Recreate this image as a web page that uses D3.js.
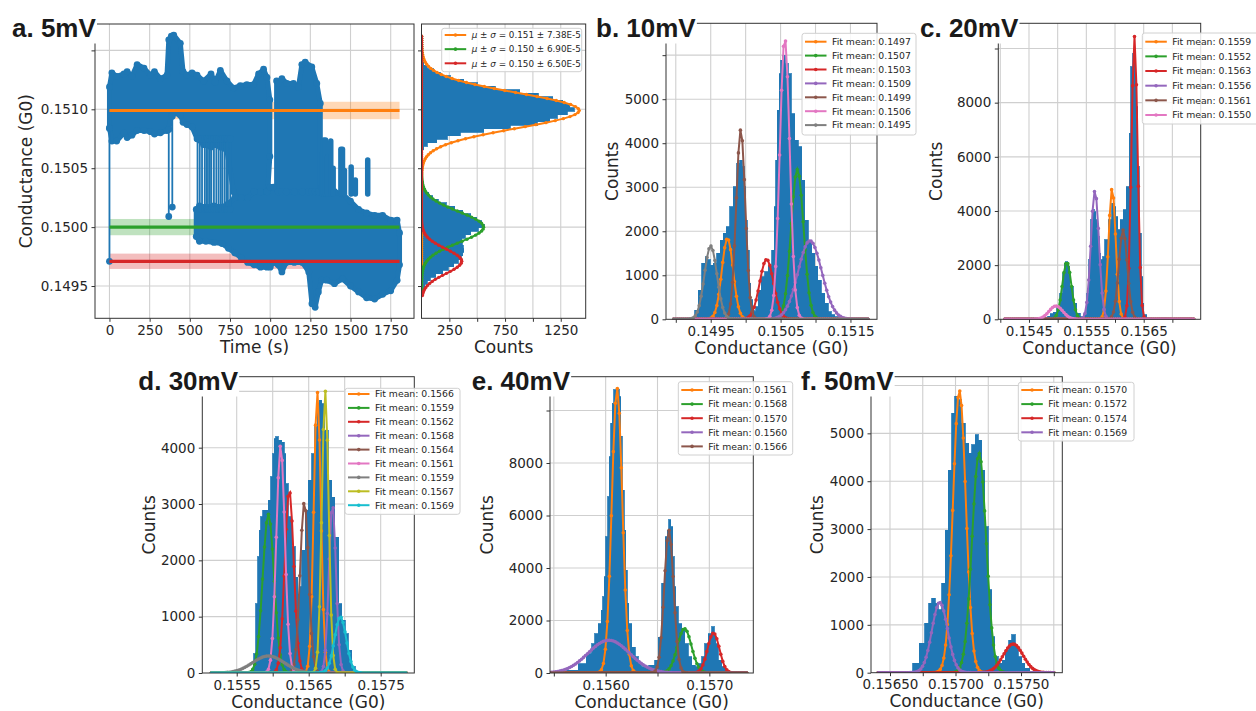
<!DOCTYPE html>
<html>
<head>
<meta charset="utf-8">
<script src="https://cdn.jsdelivr.net/npm/d3@7"></script>
<style>
  body { margin: 0; background: #fff; }
  svg text { font-family: "DejaVu Sans", sans-serif; fill: #262626; }
  .title { font-family: "Liberation Sans", Arial, sans-serif; font-weight: bold; font-size: 26px; fill: #1a1a1a; }
</style>
</head>
<body>
<svg id="fig" width="1256" height="711"></svg>
<script>

// Colours (matplotlib tab10, blue left out for the fits)
const blue = "#1f77b4";
const fitColors = ["#ff7f0e", "#2ca02c", "#d62728", "#9467bd", "#8c564b", "#e377c2", "#7f7f7f", "#bcbd22", "#17becf"];

// a. 5mV - time trace //////////////////////////////

// upper state envelope (time s, top, bottom)
const upT  = [0, 15, 45, 90, 110, 140, 172, 215, 255, 280, 317, 358, 369, 385, 400, 441, 458, 482, 514, 545, 586, 632, 658, 690, 731, 772, 814, 855, 897, 928, 959, 980, 998];
const upHi = [0.15119, 0.15131, 0.15128, 0.15130, 0.15132, 0.15128, 0.15138, 0.15135, 0.15129, 0.15132, 0.15126, 0.15129, 0.15159, 0.15162, 0.15163, 0.15156, 0.15132, 0.15129, 0.15131, 0.15129, 0.15124, 0.15130, 0.15123, 0.15133, 0.15124, 0.15118, 0.15120, 0.15121, 0.15121, 0.15130, 0.15134, 0.15127, 0.15108];
const upLo = [0.15084, 0.15073, 0.15073, 0.15080, 0.15076, 0.15078, 0.15082, 0.15082, 0.15081, 0.15079, 0.15080, 0.15082, 0.15083, 0.15094, 0.15097, 0.15095, 0.15089, 0.15087, 0.15085, 0.15075, 0.15070, 0.15068, 0.15070, 0.15068, 0.15065, 0.15030, 0.15020, 0.15020, 0.15020, 0.15020, 0.15020, 0.15020, 0.15060];

const up2T  = [1040, 1052, 1073, 1104, 1145, 1176, 1197, 1218, 1259, 1290, 1312];
const up2Hi = [0.15124, 0.15122, 0.15126, 0.15122, 0.15122, 0.15119, 0.15138, 0.15140, 0.15136, 0.15122, 0.15105];
const up2Lo = [0.15020, 0.15020, 0.15020, 0.15020, 0.15020, 0.15020, 0.15020, 0.15020, 0.15020, 0.15020, 0.15020];

// lower state envelope
const lowT  = [540, 560, 600, 650, 700, 740, 780, 820, 860, 900, 940, 980, 1000, 1020, 1050, 1073, 1100, 1150, 1200, 1240, 1260, 1280, 1300, 1320, 1350, 1400, 1450, 1500, 1550, 1600, 1650, 1700, 1750, 1790, 1805];
const lowHi = [0.15015, 0.15018, 0.15017, 0.15018, 0.15017, 0.15020, 0.15025, 0.15025, 0.15025, 0.15030, 0.15030, 0.15030, 0.15034, 0.15034, 0.15030, 0.15030, 0.15030, 0.15030, 0.15030, 0.15030, 0.15030, 0.15030, 0.15030, 0.15034, 0.15032, 0.15030, 0.15028, 0.15022, 0.15015, 0.15012, 0.15010, 0.15010, 0.15006, 0.15006, 0.14995];
const lowLo = [0.14992, 0.14988, 0.14988, 0.14987, 0.14986, 0.14982, 0.14978, 0.14974, 0.14970, 0.14968, 0.14966, 0.14966, 0.14966, 0.14970, 0.14968, 0.14962, 0.14970, 0.14970, 0.14970, 0.14962, 0.14935, 0.14932, 0.14945, 0.14955, 0.14955, 0.14952, 0.14956, 0.14950, 0.14945, 0.14940, 0.14939, 0.14943, 0.14946, 0.14955, 0.14968];

// single jumps between states
const spikeT   = [0, 369, 391, 548, 562, 576, 593, 604, 613, 625, 634, 650, 665, 679, 692, 702, 716, 728, 737, 752, 1322, 1333, 1345, 1358, 1377, 1392, 1440, 1450, 1462, 1504, 1530, 1607];
const spikeTop = [0.15084, 0.15083, 0.15094, 0.15075, 0.15075, 0.15075, 0.15075, 0.15075, 0.15075, 0.15075, 0.15075, 0.15075, 0.15075, 0.15075, 0.15075, 0.15075, 0.15075, 0.15075, 0.15075, 0.15075, 0.15062, 0.15074, 0.15074, 0.15060, 0.15073, 0.15050, 0.15066, 0.15066, 0.15048, 0.15051, 0.15040, 0.15057];
const spikeBot = [0.14971, 0.15009, 0.15017, 0.15015, 0.15015, 0.15015, 0.15015, 0.15015, 0.15015, 0.15015, 0.15015, 0.15015, 0.15015, 0.15015, 0.15015, 0.15015, 0.15015, 0.15015, 0.15015, 0.15015, 0.15028, 0.15028, 0.15028, 0.15028, 0.15028, 0.15028, 0.15028, 0.15028, 0.15028, 0.15028, 0.15028, 0.15028];

const aMeans = [0.15099, 0.15000, 0.14971];
const aSigmas = [7.38e-5, 6.90e-5, 6.50e-5];
const aTimeSpan = [0, 1805];
const aLegend = ["0.151 ± 7.38E-5", "0.150 ± 6.90E-5", "0.150 ± 6.50E-5"];

// a. histogram of the trace
const aBinStart = 0.14944, aBinStep = 0.00003;
const aCounts = [10, 18, 30, 50, 80, 130, 190, 240, 290, 330, 355, 372, 380, 376, 368, 362, 392, 440, 510, 565,
                 540, 495, 440, 370, 300, 220, 150, 100, 65, 40, 22, 14, 10, 9, 9, 9, 9, 10, 10, 11,
                 13, 20, 50, 135, 230, 346, 560, 798, 1040, 1150, 1220, 1310, 1370, 1330, 1270, 1180, 1050, 880, 660, 500,
                 380, 260, 170, 110, 50, 20];
const aFitAmp = [1416, 557, 361];
const aFitWidth = [1.5e-4, 1.3e-4, 1.05e-4];

// b. 10mV
const bG = [0.14920, 0.14925, 0.14930, 0.14935, 0.14940, 0.14944, 0.14947, 0.14951, 0.14956, 0.14961, 0.14966, 0.14970, 0.14975, 0.14980, 0.14985, 0.14990, 0.14993, 0.14997, 0.14999, 0.15001, 0.15004, 0.15006, 0.15009, 0.15011, 0.15013, 0.15016, 0.15020, 0.15025, 0.15030, 0.15035, 0.15040, 0.15042, 0.15044, 0.15047, 0.15049, 0.15051, 0.15054, 0.15059, 0.15063, 0.15068, 0.15073, 0.15078, 0.15082, 0.15087, 0.15092, 0.15097, 0.15101, 0.15106, 0.15111, 0.15116, 0.15120, 0.15125, 0.15130, 0.15140, 0.15149];
const bN = [10, 50, 210, 665, 1270, 1420, 1350, 1230, 1270, 1500, 1800, 1950, 2100, 2560, 3010, 3540, 3615, 3460, 3010, 2250, 1570, 820, 440, 210, 175, 290, 665, 970, 1080, 1200, 1570, 2560, 3615, 4750, 5580, 5880, 6000, 5810, 5580, 4670, 4070, 3920, 3160, 2250, 1800, 1500, 1200, 890, 590, 360, 175, 100, 60, 20, 0];
const bMeans  = [0.14974, 0.15074, 0.15030, 0.15092, 0.14993, 0.15056, 0.14950];
const bAmps   = [1838, 3404, 1361, 1785, 4311, 6391, 1664];
const bSigmas = [8.1e-5, 9.0e-5, 1.0e-4, 1.7e-4, 6.5e-5, 7.1e-5, 9.0e-5];
const bLabels = ["0.1497", "0.1507", "0.1503", "0.1509", "0.1499", "0.1506", "0.1495"];

// c. 20mV
const cG = [0.15480, 0.15485, 0.15490, 0.15495, 0.15501, 0.15507, 0.15510, 0.15513, 0.15516, 0.15519, 0.15524, 0.15530, 0.15536, 0.15542, 0.15548, 0.15553, 0.15556, 0.15559, 0.15562, 0.15565, 0.15568, 0.15571, 0.15574, 0.15577, 0.15580, 0.15585, 0.15591, 0.15597, 0.15600, 0.15603, 0.15607, 0.15612, 0.15617, 0.15623, 0.15626, 0.15629, 0.15632, 0.15635, 0.15638, 0.15641, 0.15644, 0.15647, 0.15649, 0.15652, 0.15658];
const cN = [60, 120, 200, 260, 470, 960, 1700, 2070, 2130, 1950, 1200, 590, 220, 100, 160, 960, 2190, 3670, 4040, 3980, 3670, 3050, 2440, 2190, 2310, 2930, 3670, 4280, 4160, 3790, 3300, 3670, 4040, 4900, 6870, 9330, 9800, 9580, 7850, 5640, 3180, 1580, 590, 160, 37];
const cMeans  = [0.15595, 0.15516, 0.15634, 0.15565, 0.15614, 0.15497];
const cAmps   = [4838, 2105, 10440, 4752, 3300, 492];
const cSigmas = [6.2e-5, 7.9e-5, 5.4e-5, 7.0e-5, 7.4e-5, 1.2e-4];
const cLabels = ["0.1559", "0.1552", "0.1563", "0.1556", "0.1561", "0.1550"];

// d. 30mV
const dG = [0.15573, 0.15575, 0.15578, 0.15580, 0.15582, 0.15585, 0.15587, 0.15592, 0.15596, 0.15599, 0.15601, 0.15603, 0.15606, 0.15610, 0.15615, 0.15617, 0.15619, 0.15624, 0.15629, 0.15633, 0.15636, 0.15638, 0.15643, 0.15647, 0.15652, 0.15656, 0.15661, 0.15663, 0.15666, 0.15670, 0.15675, 0.15680, 0.15684, 0.15689, 0.15694, 0.15698, 0.15703, 0.15707, 0.15712, 0.15717];
const dN = [18, 343, 1230, 2060, 2530, 2770, 2890, 2890, 3065, 3480, 3890, 4160, 4190, 4130, 4100, 3890, 3360, 2770, 2240, 1700, 1350, 1530, 2180, 2890, 3420, 3890, 4370, 4720, 4840, 4780, 4310, 3420, 3120, 2410, 1230, 935, 700, 400, 107, 12];
const dMeans  = [0.15662, 0.15594, 0.15623, 0.15683, 0.15644, 0.15611, 0.15594, 0.15673, 0.15694];
const dAmps   = [4988, 2817, 3243, 3006, 3035, 4041, 302, 5006, 994];
const dSigmas = [4.9e-5, 7.9e-5, 6.3e-5, 4.9e-5, 5.9e-5, 5.9e-5, 2.2e-4, 4.7e-5, 8.2e-5];
const dLabels = ["0.1566", "0.1559", "0.1562", "0.1568", "0.1564", "0.1561", "0.1559", "0.1567", "0.1569"];

// e. 40mV
const eG = [0.15556, 0.15569, 0.15578, 0.15585, 0.15588, 0.15591, 0.15595, 0.15596, 0.15598, 0.15599, 0.15601, 0.15603, 0.15604, 0.15606, 0.15607, 0.15609, 0.15611, 0.15612, 0.15614, 0.15615, 0.15617, 0.15619, 0.15620, 0.15622, 0.15623, 0.15627, 0.15630, 0.15633, 0.15636, 0.15640, 0.15643, 0.15646, 0.15649, 0.15652, 0.15656, 0.15659, 0.15660, 0.15662, 0.15664, 0.15665, 0.15667, 0.15668, 0.15672, 0.15675, 0.15678, 0.15681, 0.15685, 0.15688, 0.15691, 0.15694, 0.15697, 0.15701, 0.15704, 0.15705, 0.15707, 0.15710, 0.15714, 0.15717, 0.15720];
const eN = [38, 100, 360, 740, 1120, 1500, 1880, 2390, 2900, 3660, 5190, 6720, 8240, 9510, 10280, 10790, 10850, 10790, 10530, 9010, 6970, 5440, 3920, 2650, 1880, 990, 610, 360, 230, 230, 290, 290, 480, 1370, 3410, 5190, 5440, 5830, 5570, 4430, 3280, 2520, 1880, 1630, 1120, 610, 290, 230, 360, 610, 1120, 1500, 1760, 1500, 1120, 480, 230, 100, 38];
const eMeans  = [0.15611, 0.15676, 0.15704, 0.15603, 0.15661];
const eAmps   = [10850, 1692, 1526, 1247, 5444];
const eSigmas = [5.05e-5, 6.8e-5, 5.7e-5, 2.0e-4, 4.5e-5];
const eLabels = ["0.1561", "0.1568", "0.1570", "0.1560", "0.1566"];

// f. 50mV
const fG = [0.15665, 0.15670, 0.15675, 0.15678, 0.15681, 0.15683, 0.15686, 0.15688, 0.15691, 0.15693, 0.15696, 0.15698, 0.15701, 0.15703, 0.15706, 0.15709, 0.15711, 0.15714, 0.15716, 0.15719, 0.15721, 0.15724, 0.15726, 0.15729, 0.15731, 0.15734, 0.15737, 0.15739, 0.15742, 0.15744, 0.15747, 0.15749, 0.15752, 0.15754, 0.15759];
const fN = [20, 195, 610, 1030, 1450, 1550, 1450, 1310, 1870, 2980, 4230, 5420, 5770, 5700, 5210, 4790, 4580, 4760, 4970, 4860, 4230, 3050, 1730, 750, 330, 195, 265, 470, 680, 790, 540, 330, 195, 90, 20];
const fMeans  = [0.15703, 0.15718, 0.15744, 0.15688];
const fAmps   = [5892, 4582, 599, 1469];
const fSigmas = [4.9e-5, 5.4e-5, 7.6e-5, 6.0e-5];
const fLabels = ["0.1570", "0.1572", "0.1574", "0.1569"];

// Layout ////////////////////////////////////////

const svg = d3.select("#fig");

const fmt4 = d3.format(".4f"), fmt5 = d3.format(".5f"), fmtInt = d3.format("d");

const panels = {
    a:  { id: "a",  l: 95,    r: 414,    t: 24,    b: 318.3, xd: [-90, 1895],          yd: [0.149226, 0.151724],
          xt: d3.range(0, 1751, 250), xl: d3.range(0, 1751, 250), xf: fmtInt,
          yt: [0.1495, 0.1500, 0.1505, 0.1510, 0.1515], yl: [0.1495, 0.1500, 0.1505, 0.1510], yf: fmt4,
          xlab: "Time (s)", ylab: "Conductance (G0)", ylx: 32 },
    ah: { id: "ah", l: 421.5, r: 585.7,  t: 24,    b: 318.3, xd: [0, 1474],            yd: [0.149226, 0.151724],
          xt: [250, 500, 750, 1000, 1250], xl: [250, 750, 1250], xf: fmtInt,
          yt: [0.1495, 0.1500, 0.1505, 0.1510, 0.1515], yl: [], yf: fmt4,
          xlab: "Counts" },
    b:  { id: "b",  l: 666,   r: 877,    t: 23.3,  b: 319.3, xd: [0.14886, 0.15188],   yd: [0, 6724],
          xt: [0.1490, 0.1495, 0.1500, 0.1505, 0.1510, 0.1515], xl: [0.1495, 0.1505, 0.1515], xf: fmt4,
          yt: [0, 1000, 2000, 3000, 4000, 5000, 6000], yl: [0, 1000, 2000, 3000, 4000, 5000], yf: fmtInt,
          xlab: "Conductance (G0)", ylab: "Counts", ylx: 618 },
    c:  { id: "c",  l: 998.3, r: 1200.7, t: 23.3,  b: 319.3, xd: [0.153965, 0.157494], yd: [0, 10931],
          xt: [0.1540, 0.1545, 0.1550, 0.1555, 0.1560, 0.1565, 0.1570], xl: [0.1545, 0.1555, 0.1565], xf: fmt4,
          yt: [0, 2000, 4000, 6000, 8000, 10000], yl: [0, 2000, 4000, 6000, 8000], yf: fmtInt,
          xlab: "Conductance (G0)", ylab: "Counts", ylx: 942 },
    d:  { id: "d",  l: 202.3, r: 414.3,  t: 376.7, b: 673,   xd: [0.155022, 0.157967], yd: [0, 5260],
          xt: [0.1555, 0.1560, 0.1565, 0.1570, 0.1575], xl: [0.1555, 0.1565, 0.1575], xf: fmt4,
          yt: [0, 1000, 2000, 3000, 4000, 5000], yl: [0, 1000, 2000, 3000, 4000], yf: fmtInt,
          xlab: "Conductance (G0)", ylab: "Counts", ylx: 155 },
    e:  { id: "e",  l: 550,   r: 753.3,  t: 376.7, b: 673,   xd: [0.155463, 0.157424], yd: [0, 11288],
          xt: [0.1555, 0.1560, 0.1565, 0.1570], xl: [0.1560, 0.1570], xf: fmt4,
          yt: [0, 2000, 4000, 6000, 8000, 10000], yl: [0, 2000, 4000, 6000, 8000], yf: fmtInt,
          xlab: "Conductance (G0)", ylab: "Counts", ylx: 493 },
    f:  { id: "f",  l: 871,   r: 1062.3, t: 376.7, b: 672.7, xd: [0.156355, 0.157815], yd: [0, 6183],
          xt: [0.15650, 0.15675, 0.15700, 0.15725, 0.15750, 0.15775], xl: [0.15650, 0.15700, 0.15750], xf: fmt5,
          yt: [0, 1000, 2000, 3000, 4000, 5000, 6000], yl: [0, 1000, 2000, 3000, 4000, 5000], yf: fmtInt,
          xlab: "Conductance (G0)", ylab: "Counts", ylx: 823 }
};

// Functions ////////////////////////////////////

function setupPanel(p) {
    const x = d3.scaleLinear().domain(p.xd).range([p.l, p.r]);
    const y = d3.scaleLinear().domain(p.yd).range([p.b, p.t]);
    const g = svg.append("g").attr("class", "panel-" + p.id);

    g.append("clipPath").attr("id", "clip-" + p.id)
        .append("rect")
        .attr("x", p.l).attr("y", p.t)
        .attr("width", p.r - p.l).attr("height", p.b - p.t);

    const grid = g.append("g").attr("stroke", "#cfcfcf").attr("stroke-width", 1.1);
    grid.selectAll(".gx")
        .data(p.xt.filter(v => x(v) > p.l + 1 && x(v) < p.r - 1))
        .join("line").attr("class", "gx")
        .attr("x1", d => x(d)).attr("x2", d => x(d))
        .attr("y1", p.t).attr("y2", p.b);
    grid.selectAll(".gy")
        .data(p.yt.filter(v => y(v) > p.t + 1 && y(v) < p.b - 1))
        .join("line").attr("class", "gy")
        .attr("y1", d => y(d)).attr("y2", d => y(d))
        .attr("x1", p.l).attr("x2", p.r);

    const plot = g.append("g").attr("clip-path", `url(#clip-${p.id})`);
    return { x, y, g, plot };
}

function finishPanel(p, P) {
    const has = (arr, d) => arr.some(v => Math.abs(v - d) < 1e-9);

    const ax = P.g.append("g")
        .attr("transform", `translate(0,${p.b})`)
        .call(d3.axisBottom(P.x).tickValues(p.xt).tickSize(3.5).tickPadding(3.5)
            .tickFormat(d => has(p.xl, d) ? p.xf(d) : ""));
    const ay = P.g.append("g")
        .attr("transform", `translate(${p.l},0)`)
        .call(d3.axisLeft(P.y).tickValues(p.yt).tickSize(3.5).tickPadding(3.5)
            .tickFormat(d => has(p.yl, d) ? p.yf(d) : ""));

    [ax, ay].forEach(a => {
        a.select(".domain").remove();
        a.selectAll("line").attr("stroke", "#333");
        a.selectAll("text")
            .attr("font-size", 13.5)
            .attr("font-family", "DejaVu Sans, sans-serif")
            .attr("fill", "#262626");
    });

    P.g.append("rect")
        .attr("x", p.l).attr("y", p.t)
        .attr("width", p.r - p.l).attr("height", p.b - p.t)
        .attr("fill", "none").attr("stroke", "#333").attr("stroke-width", 1);

    if (p.xlab) {
        P.g.append("text")
            .attr("x", (p.l + p.r) / 2).attr("y", p.b + 34.5)
            .attr("text-anchor", "middle").attr("font-size", 17)
            .text(p.xlab);
    }
    if (p.ylab) {
        P.g.append("text")
            .attr("transform", `translate(${p.ylx},${(p.t + p.b) / 2}) rotate(-90)`)
            .attr("text-anchor", "middle").attr("font-size", 17)
            .text(p.ylab);
    }
}

function drawHist(P, gs, ns) {
    const edge = i => {
        const left = i === 0 ? gs[0] - (gs[1] - gs[0]) / 2 : (gs[i - 1] + gs[i]) / 2;
        const right = i === gs.length - 1 ? gs[i] + (gs[i] - gs[i - 1]) / 2 : (gs[i] + gs[i + 1]) / 2;
        return [left, right];
    };
    P.plot.append("g")
        .attr("fill", blue).attr("stroke", blue).attr("stroke-width", 0.8)
        .attr("shape-rendering", "crispEdges")
        .selectAll("rect")
        .data(ns.map((n, i) => ({ g: edge(i), n })))
        .join("rect")
        .attr("x", d => P.x(d.g[0]))
        .attr("width", d => P.x(d.g[1]) - P.x(d.g[0]))
        .attr("y", d => P.y(d.n))
        .attr("height", d => P.y(0) - P.y(d.n));
}

function gaussPoints(mu, amp, sig, range, n) {
    return d3.range(n).map(k => {
        const g = range[0] + (range[1] - range[0]) * k / (n - 1);
        return [g, amp * Math.exp(-((g - mu) ** 2) / (2 * sig * sig))];
    });
}

function drawFits(P, means, amps, sigmas, range, n) {
    means.forEach((mu, i) => {
        const pts = gaussPoints(mu, amps[i], sigmas[i], range, n);
        P.plot.append("path")
            .datum(pts)
            .attr("d", d3.line().x(d => P.x(d[0])).y(d => P.y(d[1])))
            .attr("fill", "none")
            .attr("stroke", fitColors[i])
            .attr("stroke-width", 2);
        P.plot.append("g").attr("fill", fitColors[i])
            .selectAll("circle")
            .data(pts)
            .join("circle")
            .attr("cx", d => P.x(d[0])).attr("cy", d => P.y(d[1]))
            .attr("r", 1.8);
    });
}

function drawLegend(cfg, labels) {
    const g = svg.append("g");
    g.append("rect")
        .attr("x", cfg.x).attr("y", cfg.y)
        .attr("width", cfg.w).attr("height", cfg.h)
        .attr("rx", 2.5)
        .attr("fill", "#fff").attr("fill-opacity", 0.85)
        .attr("stroke", "#d0d0d0").attr("stroke-width", 1);

    labels.forEach((lab, i) => {
        const yy = cfg.row0 + i * cfg.step;
        g.append("line")
            .attr("x1", cfg.x + 3).attr("x2", cfg.x + 24.5)
            .attr("y1", yy).attr("y2", yy)
            .attr("stroke", fitColors[i]).attr("stroke-width", 2);
        g.append("circle")
            .attr("cx", cfg.x + 13.75).attr("cy", yy).attr("r", 1.8)
            .attr("fill", fitColors[i]);
        const t = g.append("text")
            .attr("x", cfg.x + 30).attr("y", yy + 3.3)
            .attr("font-size", cfg.font);
        if (cfg.greek) {
            t.append("tspan").attr("font-style", "italic").text("μ");
            t.append("tspan").text(" ± ");
            t.append("tspan").attr("font-style", "italic").text("σ");
            t.append("tspan").text(" = " + lab);
        } else {
            t.text("Fit mean: " + lab);
        }
    });
}

function drawTitle(txt, x, y) {
    const g = svg.append("g");
    const t = g.append("text").attr("class", "title").attr("x", x).attr("y", y).text(txt);
    const bb = t.node().getBBox();
    g.insert("rect", "text")
        .attr("x", bb.x - 2).attr("y", bb.y - 1)
        .attr("width", bb.width + 2.5).attr("height", bb.height + 1.5)
        .attr("fill", "#fff");
}

// Panel a: trace ///////////////////////////////

const pa = panels.a;
const A = setupPanel(pa);

// mean +- sigma bands
A.plot.append("g")
    .selectAll("rect")
    .data(aMeans.map((m, i) => ({ m, s: aSigmas[i], c: fitColors[i] })))
    .join("rect")
    .attr("x", A.x(aTimeSpan[0])).attr("width", A.x(aTimeSpan[1]) - A.x(aTimeSpan[0]))
    .attr("y", d => A.y(d.m + d.s)).attr("height", d => A.y(d.m - d.s) - A.y(d.m + d.s))
    .attr("fill", d => d.c).attr("fill-opacity", 0.3);

const trace = A.plot.append("g");
const envArea = d3.area()
    .x(d => A.x(d[0]))
    .y0(d => A.y(d[2]))
    .y1(d => A.y(d[1]));

[[upT, upHi, upLo], [up2T, up2Hi, up2Lo], [lowT, lowHi, lowLo]].forEach(([ts, hi, lo]) => {
    const rows = ts.map((t, i) => [t, hi[i], lo[i]]);
    trace.append("path")
        .datum(rows)
        .attr("d", envArea)
        .attr("fill", blue)
        .attr("stroke", blue)
        .attr("stroke-width", 5)
        .attr("stroke-linejoin", "round");
    trace.append("g").attr("fill", blue)
        .selectAll("circle")
        .data(rows.flatMap(r => [[r[0], r[1]], [r[0], r[2]]]))
        .join("circle")
        .attr("cx", d => A.x(d[0])).attr("cy", d => A.y(d[1]))
        .attr("r", 3.4);
});

// jumps: thin lines early on, stacked markers (thick columns) after 1300 s
const spikes = spikeT.map((t, i) => ({ t, top: spikeTop[i], bot: spikeBot[i] }));
trace.append("g")
    .selectAll("line")
    .data(spikes)
    .join("line")
    .attr("x1", d => A.x(d.t)).attr("x2", d => A.x(d.t))
    .attr("y1", d => A.y(d.top)).attr("y2", d => A.y(d.bot))
    .attr("stroke", blue)
    .attr("stroke-linecap", "round")
    .attr("stroke-width", d => d.t > 1300 ? 5.5 : 1.8);
trace.append("g").attr("fill", blue)
    .selectAll("circle")
    .data(spikes.filter(d => d.t < 1300).flatMap(d => [[d.t, d.top], [d.t, d.bot]]))
    .join("circle")
    .attr("cx", d => A.x(d[0])).attr("cy", d => A.y(d[1]))
    .attr("r", 3.4);

// mean lines
A.plot.append("g")
    .selectAll("line")
    .data(aMeans)
    .join("line")
    .attr("x1", A.x(aTimeSpan[0])).attr("x2", A.x(aTimeSpan[1]))
    .attr("y1", d => A.y(d)).attr("y2", d => A.y(d))
    .attr("stroke", (d, i) => fitColors[i]).attr("stroke-width", 3.2);

finishPanel(pa, A);

// Panel a: histogram ///////////////////////////

const ph = panels.ah;
const H = setupPanel(ph);

H.plot.append("g")
    .attr("fill", blue).attr("stroke", blue).attr("stroke-width", 0.8)
    .attr("shape-rendering", "crispEdges")
    .selectAll("rect")
    .data(aCounts.map((n, i) => ({ g: aBinStart + i * aBinStep, n })))
    .join("rect")
    .attr("x", H.x(0))
    .attr("width", d => H.x(d.n) - H.x(0))
    .attr("y", d => H.y(d.g + aBinStep / 2))
    .attr("height", d => H.y(d.g - aBinStep / 2) - H.y(d.g + aBinStep / 2));

aMeans.forEach((mu, i) => {
    const pts = gaussPoints(mu, aFitAmp[i], aFitWidth[i], [0.14942, 0.15162], 130);
    H.plot.append("path")
        .datum(pts)
        .attr("d", d3.line().x(d => H.x(d[1])).y(d => H.y(d[0])))
        .attr("fill", "none")
        .attr("stroke", fitColors[i]).attr("stroke-width", 2);
    H.plot.append("g").attr("fill", fitColors[i])
        .selectAll("circle")
        .data(pts)
        .join("circle")
        .attr("cx", d => H.x(d[1])).attr("cy", d => H.y(d[0]))
        .attr("r", 1.7);
});

finishPanel(ph, H);

// Panels b - f /////////////////////////////////

const histPanels = [
    { p: panels.b, gs: bG, ns: bN, means: bMeans, amps: bAmps, sig: bSigmas, range: [0.14897, 0.15175], n: 100 },
    { p: panels.c, gs: cG, ns: cN, means: cMeans, amps: cAmps, sig: cSigmas, range: [0.15408, 0.15737], n: 100 },
    { p: panels.d, gs: dG, ns: dN, means: dMeans, amps: dAmps, sig: dSigmas, range: [0.15515, 0.15785], n: 100 },
    { p: panels.e, gs: eG, ns: eN, means: eMeans, amps: eAmps, sig: eSigmas, range: [0.15546, 0.15736], n: 100 },
    { p: panels.f, gs: fG, ns: fN, means: fMeans, amps: fAmps, sig: fSigmas, range: [0.15641, 0.15775], n: 100 }
];

histPanels.forEach(hp => {
    const P = setupPanel(hp.p);
    drawHist(P, hp.gs, hp.ns);
    drawFits(P, hp.means, hp.amps, hp.sig, hp.range, hp.n);
    finishPanel(hp.p, P);
});

// Legends //////////////////////////////////////

drawLegend({ x: 441.7, y: 28.3, w: 140, h: 43.4, row0: 35, step: 14.15, font: 8.8, greek: true }, aLegend);
drawLegend({ x: 802, y: 33.3, w: 114, h: 101.7, row0: 41.7, step: 13.9, font: 9.3 }, bLabels);
drawLegend({ x: 1142.3, y: 33, w: 120, h: 91, row0: 41.7, step: 14.66, font: 9.3 }, cLabels);
drawLegend({ x: 345, y: 388.3, w: 115, h: 126, row0: 394, step: 13.9, font: 9.3 }, dLabels);
drawLegend({ x: 678.3, y: 381.7, w: 114.4, h: 73.3, row0: 390, step: 14.1, font: 9.3 }, eLabels);
drawLegend({ x: 1018.3, y: 382.3, w: 115.7, h: 58.7, row0: 390, step: 14.1, font: 9.3 }, fLabels);

// Titles ///////////////////////////////////////

drawTitle("a. 5mV", 12, 37);
drawTitle("b. 10mV", 596, 37);
drawTitle("c. 20mV", 920, 37);
drawTitle("d. 30mV", 138.3, 390);
drawTitle("e. 40mV", 471.7, 390);
drawTitle("f. 50mV", 801, 390);

</script>
</body>
</html>
